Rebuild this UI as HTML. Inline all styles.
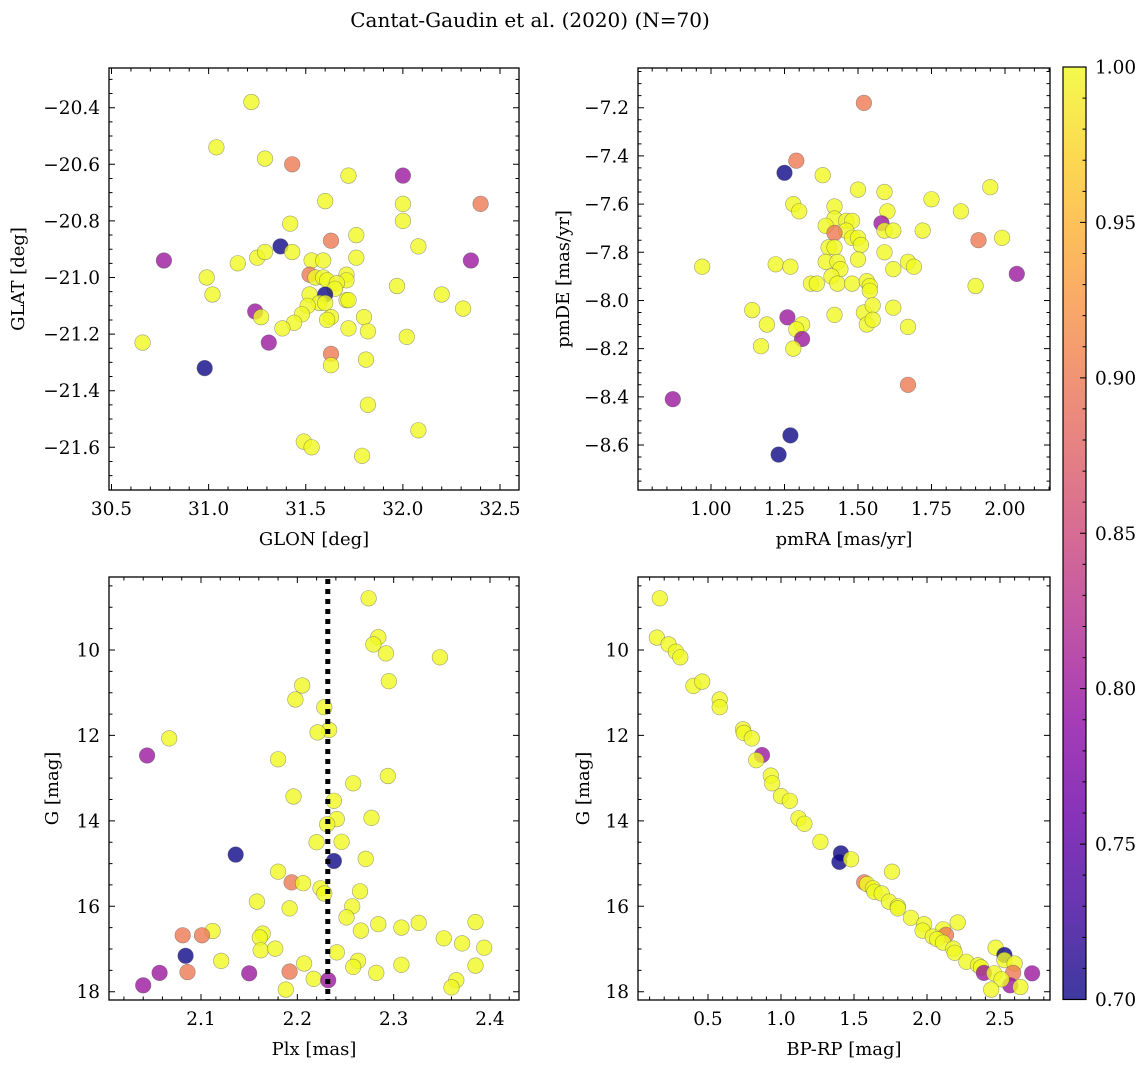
<!DOCTYPE html>
<html><head><meta charset="utf-8"><style>
html,body{margin:0;padding:0;background:#fff;}
svg{display:block;font-family:"DejaVu Serif","Liberation Serif",serif;}
</style></head><body>
<svg id="fig" width="1148" height="1067" viewBox="0 0 1148 1067" xmlns="http://www.w3.org/2000/svg">
<defs>
<linearGradient id="plasma" x1="0" y1="1" x2="0" y2="0">
<stop offset="0" stop-color="#0d0887"/><stop offset="0.1" stop-color="#41049d"/><stop offset="0.2" stop-color="#6a00a8"/><stop offset="0.3" stop-color="#8f0da4"/><stop offset="0.4" stop-color="#b12a90"/><stop offset="0.5" stop-color="#cc4778"/><stop offset="0.6" stop-color="#e16462"/><stop offset="0.7" stop-color="#f2844b"/><stop offset="0.8" stop-color="#fca636"/><stop offset="0.9" stop-color="#fcce25"/><stop offset="1" stop-color="#f0f921"/>
</linearGradient>
</defs>
<text x="530" y="27" font-size="20" text-anchor="middle">Cantat-Gaudin et al. (2020) (N=70)</text>
</svg>
<script>
// ---- data ----
const p1Glon=[31.22,31.04,31.29,31.43,31.72,32.00,31.60,32.00,32.40,32.00,31.42,31.76,31.63,31.37,32.08,31.25,31.29,31.43,31.76,30.77,32.35,31.15,31.53,31.59,30.99,31.52,31.55,31.59,31.61,31.71,31.71,31.66,31.65,31.97,31.02,31.52,31.60,31.57,31.51,31.48,31.60,31.71,31.72,32.20,32.31,31.24,31.27,31.44,31.38,31.63,31.61,31.72,31.80,31.82,32.02,30.66,31.31,31.63,31.63,31.81,30.98,31.82,32.08,31.49,31.53,31.79];
const p1Glat=[-20.38,-20.54,-20.58,-20.60,-20.64,-20.64,-20.73,-20.74,-20.74,-20.80,-20.81,-20.85,-20.87,-20.89,-20.89,-20.93,-20.91,-20.91,-20.93,-20.94,-20.94,-20.95,-20.94,-20.94,-21.00,-20.99,-21.00,-21.00,-21.01,-20.99,-21.01,-21.02,-21.04,-21.03,-21.06,-21.06,-21.06,-21.09,-21.10,-21.13,-21.09,-21.08,-21.08,-21.06,-21.11,-21.12,-21.14,-21.16,-21.18,-21.14,-21.15,-21.18,-21.14,-21.19,-21.21,-21.23,-21.23,-21.27,-21.31,-21.29,-21.32,-21.45,-21.54,-21.58,-21.60,-21.63];
const p1Prob=[1,1,1,0.9,1,0.8,1,1,0.9,1,1,1,0.9,0.7,1,1,1,1,1,0.8,0.8,1,1,1,1,0.9,1,1,1,1,1,1,1,1,1,1,0.7,1,1,1,1,1,1,1,1,0.8,1,1,1,1,1,1,1,1,1,1,0.8,0.9,1,1,0.7,1,1,1,1,1];

const p2PmRA=[1.52,1.29,1.25,1.38,1.50,1.59,1.95,1.75,1.28,1.30,1.42,1.60,1.85,1.42,1.39,1.46,1.48,1.46,1.48,1.50,1.51,1.58,1.59,1.62,1.42,1.72,1.91,1.99,1.40,1.42,1.59,1.50,0.97,1.22,1.27,1.39,1.43,1.44,1.62,1.67,1.69,2.04,1.41,1.43,1.34,1.36,1.48,1.53,1.54,1.54,1.90,1.14,1.52,1.55,1.62,1.26,1.42,1.19,1.31,1.29,1.53,1.55,1.67,1.31,1.17,1.28,1.67,0.87,1.27,1.23];
const p2PmDE=[-7.18,-7.42,-7.47,-7.48,-7.54,-7.55,-7.53,-7.58,-7.60,-7.63,-7.61,-7.63,-7.63,-7.66,-7.69,-7.67,-7.67,-7.71,-7.74,-7.74,-7.77,-7.68,-7.71,-7.71,-7.72,-7.71,-7.75,-7.74,-7.78,-7.78,-7.80,-7.83,-7.86,-7.85,-7.86,-7.84,-7.84,-7.87,-7.87,-7.84,-7.86,-7.89,-7.90,-7.93,-7.93,-7.93,-7.93,-7.92,-7.94,-7.96,-7.94,-8.04,-8.05,-8.02,-8.03,-8.07,-8.06,-8.10,-8.10,-8.12,-8.10,-8.08,-8.11,-8.16,-8.19,-8.20,-8.35,-8.41,-8.56,-8.64];
const p2Prob=[0.9,0.9,0.7,1,1,1,1,1,1,1,1,1,1,1,1,1,1,1,1,1,1,0.8,1,1,0.9,1,0.9,1,1,1,1,1,1,1,1,1,1,1,1,1,1,0.8,1,1,1,1,1,1,1,1,1,1,1,1,1,0.8,1,1,1,1,1,1,1,0.8,1,1,0.9,0.8,0.7,0.7];

const p3Plx=[2.274,2.284,2.279,2.292,2.348,2.295,2.205,2.198,2.228,2.233,2.221,2.067,2.044,2.180,2.294,2.258,2.196,2.238,2.241,2.277,2.231,2.220,2.246,2.136,2.238,2.271,2.180,2.194,2.206,2.224,2.228,2.265,2.158,2.192,2.257,2.251,2.284,2.308,2.326,2.385,2.266,2.112,2.081,2.101,2.164,2.161,2.352,2.371,2.394,2.162,2.177,2.241,2.084,2.121,2.207,2.308,2.385,2.263,2.258,2.086,2.192,2.057,2.150,2.282,2.217,2.232,2.365,2.360,2.040,2.188];
const p3G=[8.79,9.70,9.87,10.08,10.17,10.73,10.83,11.16,11.34,11.87,11.93,12.07,12.47,12.56,12.95,13.12,13.43,13.53,13.96,13.93,14.08,14.50,14.49,14.79,14.94,14.89,15.19,15.44,15.46,15.58,15.70,15.65,15.89,16.05,16.00,16.26,16.42,16.50,16.39,16.37,16.57,16.58,16.68,16.68,16.64,16.73,16.75,16.87,16.97,17.03,16.99,17.08,17.16,17.28,17.34,17.37,17.39,17.28,17.42,17.54,17.53,17.56,17.57,17.56,17.70,17.73,17.73,17.90,17.85,17.95];
const p3Prob=[1,1,1,1,1,1,1,1,1,1,1,1,0.8,1,1,1,1,1,1,1,1,1,1,0.7,0.7,1,1,0.9,1,1,1,1,1,1,1,1,1,1,1,1,1,1,0.9,0.9,1,1,1,1,1,1,1,1,0.7,1,1,1,1,1,1,0.9,0.9,0.8,0.8,1,1,0.8,1,1,0.8,1];
const plxMean=2.2316;

const p4BpRp=[0.17,0.15,0.23,0.28,0.31,0.40,0.46,0.58,0.58,0.74,0.745,0.80,0.87,0.83,0.93,0.94,1.00,1.06,1.12,1.16,1.27,1.41,1.40,1.48,1.76,1.57,1.59,1.63,1.64,1.69,1.74,1.80,1.80,1.89,1.98,1.97,2.21,2.11,2.13,2.04,2.07,2.11,2.18,2.19,2.27,2.35,2.37,2.39,2.47,2.53,2.53,2.60,2.59,2.46,2.57,2.72,2.51,2.44,2.64];
const p4G=[8.79,9.71,9.87,10.04,10.17,10.84,10.74,11.16,11.34,11.86,11.94,12.07,12.46,12.58,12.94,13.12,13.42,13.53,13.94,14.07,14.49,14.76,14.96,14.90,15.19,15.44,15.48,15.58,15.66,15.70,15.89,16.00,16.05,16.27,16.42,16.57,16.38,16.54,16.67,16.71,16.77,16.85,16.99,17.09,17.30,17.38,17.43,17.56,16.97,17.14,17.26,17.34,17.56,17.57,17.85,17.57,17.71,17.95,17.89];
const p4Prob=[1,1,1,1,1,1,1,1,1,1,1,1,0.8,1,1,1,1,1,1,1,1,0.7,0.7,1,1,0.9,1,1,1,1,1,1,1,1,1,1,1,1,0.9,1,1,1,1,1,1,1,1,0.8,1,0.7,1,1,0.9,1,0.8,0.8,1,1,1];

const cbTicks=[0.70,0.75,0.80,0.85,0.90,0.95,1.00];

// ---- helpers ----
const NS='http://www.w3.org/2000/svg';
const svg=document.getElementById('fig');
function mk(tag,attrs,parent){const e=document.createElementNS(NS,tag);for(const k in attrs)e.setAttribute(k,attrs[k]);(parent||svg).appendChild(e);return e;}
function lin(d0,r0,d1,r1){return v=>r0+(v-d0)*(r1-r0)/(d1-d0);}
const stops=[[13,8,135],[65,4,157],[106,0,168],[143,13,164],[177,42,144],[204,71,120],[225,100,98],[242,132,75],[252,166,54],[252,206,37],[240,249,33]];
function plasma(p){let t=(p-0.7)/0.3;t=Math.max(0,Math.min(1,t));const f=t*10,i=Math.min(9,Math.floor(f)),u=f-i;
 const c=stops[i].map((v,k)=>v+(stops[i+1][k]-v)*u);return 'rgb('+c.map(Math.round).join(',')+')';}
function fmt(v,d){return (v<0?'\u2212':'')+Math.abs(v).toFixed(d);}
const TF=18.5, AF=18;

function panel(cfg){
 const g=mk('g',{});
 
 
 const {L,R,T,B,sx,sy}=cfg;
 const pg=mk('g',{},g);
 
 
 for(let i=0;i<cfg.xs.length;i++){
  const c=mk('circle',{cx:sx(cfg.xs[i]).toFixed(1),cy:sy(cfg.ys[i]).toFixed(1),r:7.8,fill:plasma(cfg.ps[i]),'fill-opacity':0.8,stroke:'#555','stroke-opacity':0.55,'stroke-width':0.6},pg);
  
  
 }
 if(cfg.extra)cfg.extra(g);
 const fr=mk('rect',{x:L,y:T,width:R-L,height:B-T,fill:'none',stroke:'#000','stroke-width':1.3},g);
 
 
 let d='';
 const ax=mk('g',{},g);
 
 
 for(let k=-200;k<=200;k++){const v=cfg.xMajor0+k*cfg.xMinor;const x=sx(v);if(x<L+0.5||x>R-0.5)continue;
  const isMaj=Math.abs(Math.round((v-cfg.xMajor0)/cfg.xMajorStep)*cfg.xMajorStep-(v-cfg.xMajor0))<1e-6;
  const len=isMaj?6:3.5;d+=`M${x} ${B}v${-len}M${x} ${T}v${len}`;
  if(isMaj){const t=mk('text',{x:x,y:B+25,'font-size':TF,'text-anchor':'middle'},ax);t.textContent=fmt(v,cfg.xDec);
   }}
 const ay=mk('g',{},g);
 
 
 for(let k=-200;k<=200;k++){const v=cfg.yMajor0+k*cfg.yMinor;const y=sy(v);if(y<T+0.5||y>B-0.5)continue;
  const isMaj=Math.abs(Math.round((v-cfg.yMajor0)/cfg.yMajorStep)*cfg.yMajorStep-(v-cfg.yMajor0))<1e-6;
  const len=isMaj?6:3.5;d+=`M${L} ${y}h${len}M${R} ${y}h${-len}`;
  if(isMaj){const t=mk('text',{x:L-9,y:y+6.5,'font-size':TF,'text-anchor':'end'},ay);t.textContent=fmt(v,cfg.yDec);
   }}
 const tk=mk('path',{d:d,stroke:'#000','stroke-width':1},g);
 
 
 const xt=mk('text',{x:(L+R)/2,y:B+55,'font-size':AF,'text-anchor':'middle'},g);xt.textContent=cfg.xTitle;
 
 const yx=cfg.yTitleX;const yy=(T+B)/2;
 const yt=mk('text',{x:yx,y:yy,'font-size':AF,'text-anchor':'middle',transform:`rotate(-90 ${yx} ${yy})`},g);yt.textContent=cfg.yTitle;
 
}

panel({name:'glon-glat-panel',L:109,R:519,T:68,B:490,sx:lin(30.5,111.5,32.5,500),sy:lin(-20.4,107.7,-21.6,447.3),
 xs:p1Glon,ys:p1Glat,ps:p1Prob,xMajor0:30.5,xMajorStep:0.5,xMinor:0.1,xDec:1,yMajor0:-20.4,yMajorStep:0.2,yMinor:0.05,yDec:1,
 xTitle:'GLON [deg]',yTitle:'GLAT [deg]',yTitleX:24});
panel({name:'proper-motion-panel',L:638,R:1050,T:68,B:490,sx:lin(1.0,711,2.0,1005),sy:lin(-7.2,107.7,-8.6,445),
 xs:p2PmRA,ys:p2PmDE,ps:p2Prob,xMajor0:1.0,xMajorStep:0.25,xMinor:0.05,xDec:2,yMajor0:-7.2,yMajorStep:0.2,yMinor:0.05,yDec:1,
 xTitle:'pmRA [mas/yr]',yTitle:'pmDE [mas/yr]',yTitleX:569});
const sx3=lin(2.1,201,2.4,490), sy3=lin(10,650,18,991.7);
panel({name:'parallax-magnitude-panel',L:109,R:519,T:577,B:1000,sx:sx3,sy:sy3,
 xs:p3Plx,ys:p3G,ps:p3Prob,xMajor0:2.1,xMajorStep:0.1,xMinor:0.02,xDec:1,yMajor0:10,yMajorStep:2,yMinor:0.5,yDec:0,
 xTitle:'Plx [mas]',yTitle:'G [mag]',yTitleX:58,
 extra:function(g){const x=sx3(plxMean);const l=mk('line',{x1:x,x2:x,y1:579,y2:1000,stroke:'#000','stroke-width':5,'stroke-dasharray':'5 5'},g);
  }});
panel({name:'cmd-panel',L:638,R:1050,T:577,B:1000,sx:lin(0.5,708,2.5,1000),sy:lin(10,650,18,991.7),
 xs:p4BpRp,ys:p4G,ps:p4Prob,xMajor0:0.5,xMajorStep:0.5,xMinor:0.1,xDec:1,yMajor0:10,yMajorStep:2,yMinor:0.5,yDec:0,
 xTitle:'BP-RP [mag]',yTitle:'G [mag]',yTitleX:589});

const cb=mk('g',{});


const cbT=67,cbB=999.5,cbL=1063,cbR=1086;
const cbY=lin(0.7,cbB,1.0,cbT);
const cr=mk('rect',{x:cbL,y:cbT,width:cbR-cbL,height:cbB-cbT,fill:'url(#plasma)','fill-opacity':0.8,stroke:'#000','stroke-width':1.2},cb);


let cd='';
for(let k=0;k<=30;k++){const v=0.7+k*0.01;const y=cbY(v);const maj=k%5===0;if(k>0&&k<30)cd+=`M${cbR} ${y}h${maj?-6:-3.5}`;}
mk('path',{d:cd,stroke:'#000','stroke-width':1},cb);
for(const v of cbTicks){const t=mk('text',{x:cbR+9,y:cbY(v)+6.5,'font-size':TF},cb);t.textContent=v.toFixed(2);
 
 }
</script>
</body></html>
